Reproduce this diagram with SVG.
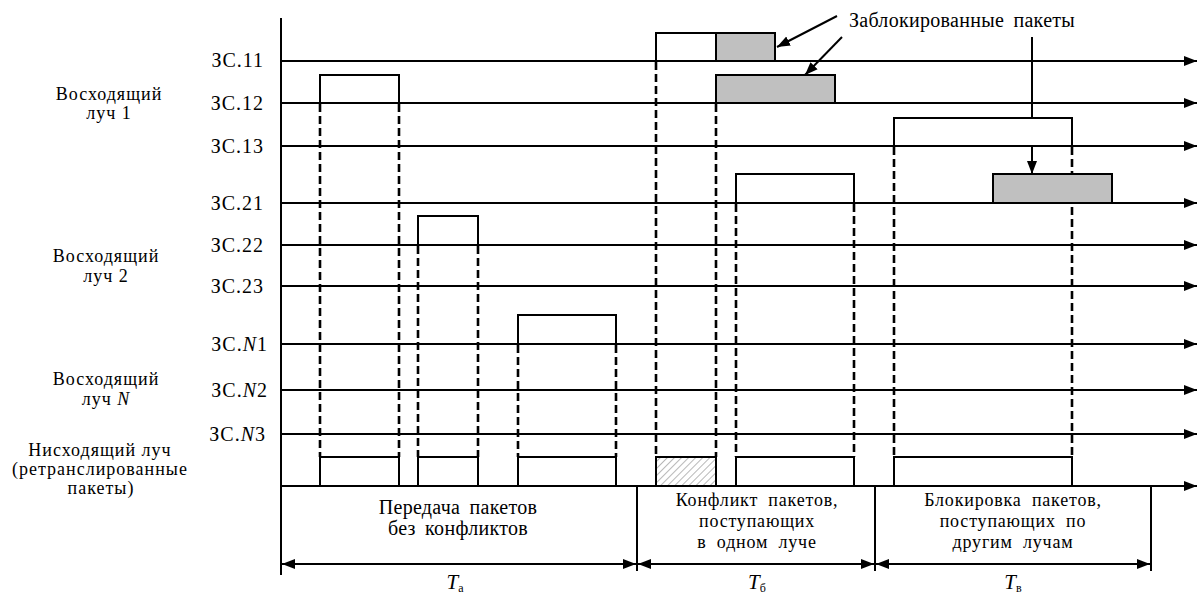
<svg xmlns="http://www.w3.org/2000/svg" width="1197" height="594" viewBox="0 0 1197 594">
<style>
.lbl{font-size:20px;letter-spacing:1px;text-anchor:end}
.side{font-size:18px;letter-spacing:1px;text-anchor:middle}
.cap{font-size:20px;letter-spacing:0.3px;word-spacing:4px;text-anchor:middle}
.cap2{font-size:18px;letter-spacing:0.8px;word-spacing:5px;text-anchor:middle}
.t{font-size:21px;font-style:italic;text-anchor:middle}
.sub{font-size:12px;font-style:normal}
.ln{stroke:#000;stroke-width:2;fill:none}
.dash{stroke:#000;stroke-width:2.6;stroke-dasharray:8 4;fill:none}
.box{fill:#fff;stroke:#000;stroke-width:2}
.gray{fill:#c0c0c0;stroke:#000;stroke-width:2}
.hat{fill:url(#hatch);stroke:#000;stroke-width:2}
.ax{stroke:#000;stroke-width:2;fill:none;marker-end:url(#ah)}
.dim{stroke:#000;stroke-width:2;fill:none;marker-start:url(#ahs);marker-end:url(#ah)}
.pt{stroke:#000;stroke-width:2;fill:none;marker-end:url(#ah)}
</style>
<defs>
<marker id="ah" markerUnits="userSpaceOnUse" markerWidth="14" markerHeight="12" refX="13" refY="6" orient="auto"><path d="M0,1 L13,6 L0,11 Z" fill="#000"/></marker>
<marker id="ahs" markerUnits="userSpaceOnUse" markerWidth="14" markerHeight="12" refX="0" refY="6" orient="auto"><path d="M13,1 L0,6 L13,11 Z" fill="#000"/></marker>
<pattern id="hatch" width="5" height="5" patternUnits="userSpaceOnUse" patternTransform="rotate(45)"><rect width="5" height="5" fill="#fff"/><line x1="0" y1="0" x2="0" y2="5" stroke="#888" stroke-width="1.2"/></pattern>
</defs>

<g id="axes">
<line class="ln" x1="281" y1="18" x2="281" y2="575"/>
<path class="ax" d="M281,61H1197"/>
<path class="ax" d="M281,103H1197"/>
<path class="ax" d="M281,146H1197"/>
<path class="ax" d="M281,203H1197"/>
<path class="ax" d="M281,245H1197"/>
<path class="ax" d="M281,286H1197"/>
<path class="ax" d="M281,344H1197"/>
<path class="ax" d="M281,390H1197"/>
<path class="ax" d="M281,434H1197"/>
<path class="ax" d="M281,486H1197"/>
<line class="ln" x1="637" y1="486" x2="637" y2="571"/>
<line class="ln" x1="875" y1="486" x2="875" y2="571"/>
<line class="ln" x1="1151" y1="486" x2="1151" y2="571"/>
</g>

<g id="labels-left" font-family="'Liberation Serif', 'Times New Roman', 'DejaVu Serif', serif" fill="#000">
<text class="side" x="109" y="100">Восходящий</text>
<text class="side" x="109" y="119">луч 1</text>
<text class="side" x="106" y="262">Восходящий</text>
<text class="side" x="106" y="282">луч 2</text>
<text class="side" x="106" y="385">Восходящий</text>
<text class="side" x="106" y="405">луч <tspan font-style="italic">N</tspan></text>
<text class="side" x="100" y="456">Нисходящий луч</text>
<text class="side" x="100" y="475">(ретранслированные</text>
<text class="side" x="101" y="494">пакеты)</text>
<text class="lbl" x="264" y="67">ЗС.11</text>
<text class="lbl" x="264" y="110">ЗС.12</text>
<text class="lbl" x="264" y="153">ЗС.13</text>
<text class="lbl" x="264" y="210">ЗС.21</text>
<text class="lbl" x="264" y="252">ЗС.22</text>
<text class="lbl" x="264" y="293">ЗС.23</text>
<text class="lbl" x="268" y="351">ЗС.<tspan font-style="italic">N</tspan>1</text>
<text class="lbl" x="268" y="397">ЗС.<tspan font-style="italic">N</tspan>2</text>
<text class="lbl" x="266" y="441">ЗС.<tspan font-style="italic">N</tspan>3</text>
</g>

<g id="connectors">
<line class="dash" x1="320" y1="104" x2="320" y2="457"/>
<line class="dash" x1="399" y1="104" x2="399" y2="457"/>
<line class="dash" x1="418" y1="246" x2="418" y2="457"/>
<line class="dash" x1="478" y1="246" x2="478" y2="457"/>
<line class="dash" x1="518" y1="345" x2="518" y2="457"/>
<line class="dash" x1="616" y1="345" x2="616" y2="457"/>
<line class="dash" x1="656" y1="62" x2="656" y2="457"/>
<line class="dash" x1="716" y1="104" x2="716" y2="457"/>
<line class="dash" x1="736" y1="204" x2="736" y2="457"/>
<line class="dash" x1="854" y1="204" x2="854" y2="457"/>
<line class="dash" x1="894" y1="147" x2="894" y2="457"/>
<line class="dash" x1="1072" y1="147" x2="1072" y2="457"/>
<path class="pt" d="M837,16L777,47"/>
<path class="pt" d="M842,37L805,75"/>
<path class="pt" d="M1032,37V174"/>
<path class="dim" d="M282,564H636"/>
<path class="dim" d="M638,564H874"/>
<path class="dim" d="M876,564H1150"/>
</g>

<g id="pkt-a1"><rect class="box" x="320" y="75" width="79" height="28"/><rect class="box" x="320" y="457" width="79" height="29"/></g>
<g id="pkt-a2"><rect class="box" x="418" y="216" width="60" height="29"/><rect class="box" x="418" y="457" width="60" height="29"/></g>
<g id="pkt-a3"><rect class="box" x="518" y="315" width="98" height="29"/><rect class="box" x="518" y="457" width="98" height="29"/></g>
<g id="pkt-b1"><rect class="box" x="656" y="33" width="60" height="28"/><rect class="hat" x="656" y="457" width="60" height="29"/></g>
<g id="pkt-b1-blocked"><rect class="gray" x="716" y="33" width="59" height="28"/></g>
<g id="pkt-b2-blocked"><rect class="gray" x="716" y="75" width="119" height="28"/></g>
<g id="pkt-b3"><rect class="box" x="736" y="174" width="118" height="29"/><rect class="box" x="736" y="457" width="118" height="29"/></g>
<g id="pkt-c1"><rect class="box" x="894" y="118" width="178" height="28"/><rect class="box" x="894" y="457" width="178" height="29"/></g>
<g id="pkt-c2-blocked"><rect class="gray" x="993" y="174" width="119" height="29"/></g>

<g id="captions" font-family="'Liberation Serif', 'Times New Roman', 'DejaVu Serif', serif" fill="#000">
<text class="cap" x="962" y="27">Заблокированные пакеты</text>
<text class="cap" x="458" y="514">Передача пакетов</text>
<text class="cap" x="458" y="535">без конфликтов</text>
<text class="cap2" x="757" y="506">Конфликт пакетов,</text>
<text class="cap2" x="757" y="527">поступающих</text>
<text class="cap2" x="757" y="548">в одном луче</text>
<text class="cap2" x="1013" y="506">Блокировка пакетов,</text>
<text class="cap2" x="1013" y="527">поступающих по</text>
<text class="cap2" x="1013" y="548">другим лучам</text>
<text class="t" x="455" y="589">T<tspan class="sub" dy="3">а</tspan></text>
<text class="t" x="757" y="589">T<tspan class="sub" dy="3">б</tspan></text>
<text class="t" x="1013" y="589">T<tspan class="sub" dy="3">в</tspan></text>
</g>
</svg>
